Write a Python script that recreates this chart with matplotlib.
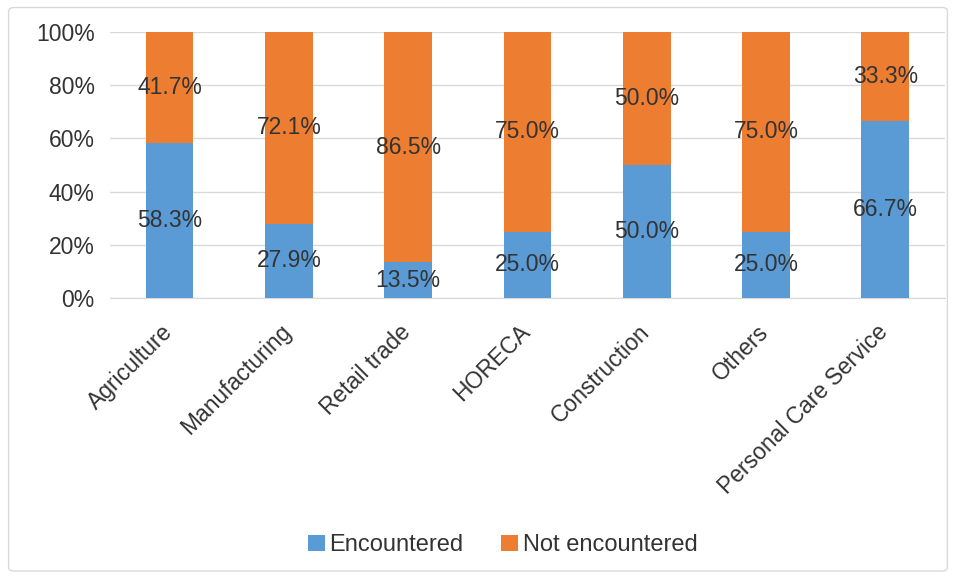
import numpy as np
import matplotlib.pyplot as plt
import matplotlib.transforms as mtransforms
from matplotlib.patches import FancyBboxPatch

plt.rcParams["font.family"] = ["Liberation Sans", "DejaVu Sans"]

# ===================== data =====================
sectors = ["Agriculture", "Manufacturing", "Retail trade", "HORECA",
           "Construction", "Others", "Personal Care Service"]
encountered = [58.3, 27.9, 13.5, 25.0, 50.0, 25.0, 66.7]
not_encountered = [41.7, 72.1, 86.5, 75.0, 50.0, 75.0, 33.3]

COLOR_ENC = "#5b9bd5"
COLOR_NOT = "#ed7d31"
TEXT_COLOR = "#333333"
FS = 16.5

fig = plt.figure(figsize=(9.56, 5.78), dpi=100)
ax = fig.add_axes([0.115, 0.4844, 0.8735, 0.4602])

# light rounded frame around the whole chart
frame = FancyBboxPatch((0.009, 0.012), 0.982, 0.975,
                       boxstyle="round,pad=0,rounding_size=0.006",
                       transform=fig.transFigure, facecolor="none",
                       edgecolor="#d9d9d9", linewidth=1.0, zorder=0)
fig.patches.append(frame)

x = np.arange(len(sectors))
enc = np.array(encountered)
notc = np.array(not_encountered)

ax.bar(x, enc, width=0.4, color=COLOR_ENC, label="Encountered", zorder=3)
ax.bar(x, notc, width=0.4, bottom=enc, color=COLOR_NOT,
       label="Not encountered", zorder=3)

# value labels centred in each segment
for xi, e, n in zip(x, enc, notc):
    ax.text(xi, e / 2, f"{e:.1f}%", ha="center", va="center",
            fontsize=FS, color=TEXT_COLOR, zorder=4)
    ax.text(xi, e + n / 2, f"{n:.1f}%", ha="center", va="center",
            fontsize=FS, color=TEXT_COLOR, zorder=4)

ax.set_xlim(-0.5, len(sectors) - 0.5)
ax.set_ylim(0, 100)
ax.set_yticks(np.arange(0, 101, 20))
ax.set_yticklabels([f"{v}%" for v in range(0, 101, 20)])
ax.yaxis.grid(True, color="#d9d9d9", linewidth=1.0, zorder=0)
ax.set_axisbelow(True)

for side in ["top", "right", "left"]:
    ax.spines[side].set_visible(False)
ax.spines["bottom"].set_color("#d9d9d9")

ax.set_xticks(x)
ax.set_xticklabels(sectors, rotation=45, ha="right", va="top",
                   rotation_mode="anchor", fontsize=FS, color=TEXT_COLOR)
ax.tick_params(axis="x", length=0, pad=16)
ax.tick_params(axis="y", length=0, pad=11, labelsize=FS, labelcolor=TEXT_COLOR)

# nudge rotated category labels slightly to the left
shift = mtransforms.ScaledTranslation(-9 / 100, 0, fig.dpi_scale_trans)
for lbl in ax.get_xticklabels():
    lbl.set_transform(lbl.get_transform() + shift)

fig.legend(loc="center", bbox_to_anchor=(0.526, 0.057), ncol=2,
           frameon=False, fontsize=17, handlelength=0.7, handleheight=0.7,
           handletextpad=0.2, columnspacing=1.6, labelcolor=TEXT_COLOR)

fig.savefig("out.png", dpi=100, facecolor="white")
